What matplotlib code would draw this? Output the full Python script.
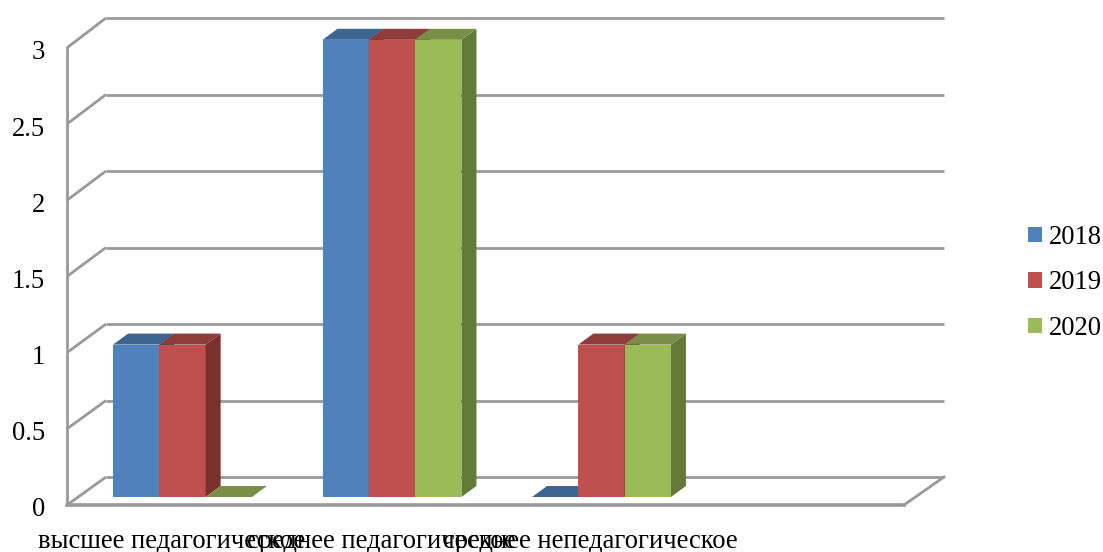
import numpy as np
import matplotlib
matplotlib.use("Agg")
import matplotlib.pyplot as plt

# данные
categories = ["высшее педагогическое", "среднее педагогическое", "среднее непедагогическое"]
years = ["2018", "2019", "2020"]
v2018 = [1, 3, 0]
v2019 = [1, 3, 1]
v2020 = [0, 3, 1]
y_ticks = [0, 0.5, 1, 1.5, 2, 2.5, 3]
y_labels = ["0", "0.5", "1", "1.5", "2", "2.5", "3"]

front = ["#4F81BD", "#C0504D", "#9BBB59"]
top = ["#3E6491", "#8F3B39", "#788F45"]
side = ["#2F4D71", "#7C302E", "#647A38"]
wall = "#999999"

W, H = 1103, 552
# масштаб в пикселях
PX_X = 209.5   # между группами
PX_Y = 152.4   # на единицу
X0 = 182.5     # центр первой группы
Y0 = 497       # низ столбиков
FS = 19.2

plt.rcParams["font.family"] = ["Liberation Serif", "DejaVu Serif"]
fig = plt.figure(figsize=(W / 100, H / 100), dpi=100)
ax = fig.add_axes([0, 0, 1, 1])
ax.set_xlim(-X0 / PX_X, (W - X0) / PX_X)
ax.set_ylim((Y0 - H) / PX_Y, Y0 / PX_Y)
ax.axis("off")

dx = 15 / PX_X      # глубина столбика
dy = 11 / PX_Y
width = 46.3 / PX_X

# стенки и пол
left = (67 - X0) / PX_X
right = (904 - X0) / PX_X
wall_dx = 39 / PX_X
wall_dy = 28 / PX_Y
floor = -8 / PX_Y
back_scale = 153 / PX_Y   # задняя стенка чуть выше передней
lw = 2.0
for t in y_ticks:
    y = t + floor
    yb = t * back_scale + floor + wall_dy
    ax.plot([left, left + wall_dx], [y, yb], color=wall, lw=lw, zorder=1, solid_capstyle="butt")
    ax.plot([left + wall_dx, right + wall_dx + 1 / PX_X], [yb, yb], color=wall, lw=lw, zorder=1, solid_capstyle="butt")
    ax.text(left - 22 / PX_X, y - 5 / PX_Y, y_labels[y_ticks.index(t)], ha="right", va="center",
            fontsize=FS, color="black")
ax.plot([left, left], [floor, 3 + floor], color=wall, lw=lw, zorder=1)
ax.plot([left, right], [floor, floor], color=wall, lw=lw + 0.6, zorder=1)
ax.plot([right, right + wall_dx + 1 / PX_X], [floor, floor + wall_dy], color=wall, lw=lw, zorder=1)

# столбики
series = [v2018, v2019, v2020]
z = 2
for c in range(len(categories)):
    for s in range(3):
        v = series[s][c]
        x = c + (s - 1.5) * width
        ax.bar(x, v, width=width, align="edge", color=front[s], linewidth=0, zorder=z)
        ax.fill([x, x + width, x + width + dx, x + dx], [v, v, v + dy, v + dy],
                color=top[s], linewidth=0, zorder=z)
        if v > 0:
            ax.fill([x + width, x + width + dx, x + width + dx, x + width], [0, dy, v + dy, v],
                    color=side[s], linewidth=0, zorder=z)
        z += 1

# подписи категорий (накладываются как в оригинале)
for c, name in enumerate(categories):
    ax.text(c - 11 / PX_X, (Y0 - 541) / PX_Y, name, ha="center", va="center",
            fontsize=FS, color="black")

# легенда
handles = [plt.Rectangle((0, 0), 1, 1, color=front[i], linewidth=0) for i in range(3)]
ax.legend(handles, years, loc="center left", bbox_to_anchor=(1028 / W, 1 - 283 / H),
          frameon=False, fontsize=FS, handlelength=0.53, handleheight=0.53,
          handletextpad=0.27, labelspacing=0.77, borderpad=0, borderaxespad=0)

fig.savefig("out.png", dpi=100)
